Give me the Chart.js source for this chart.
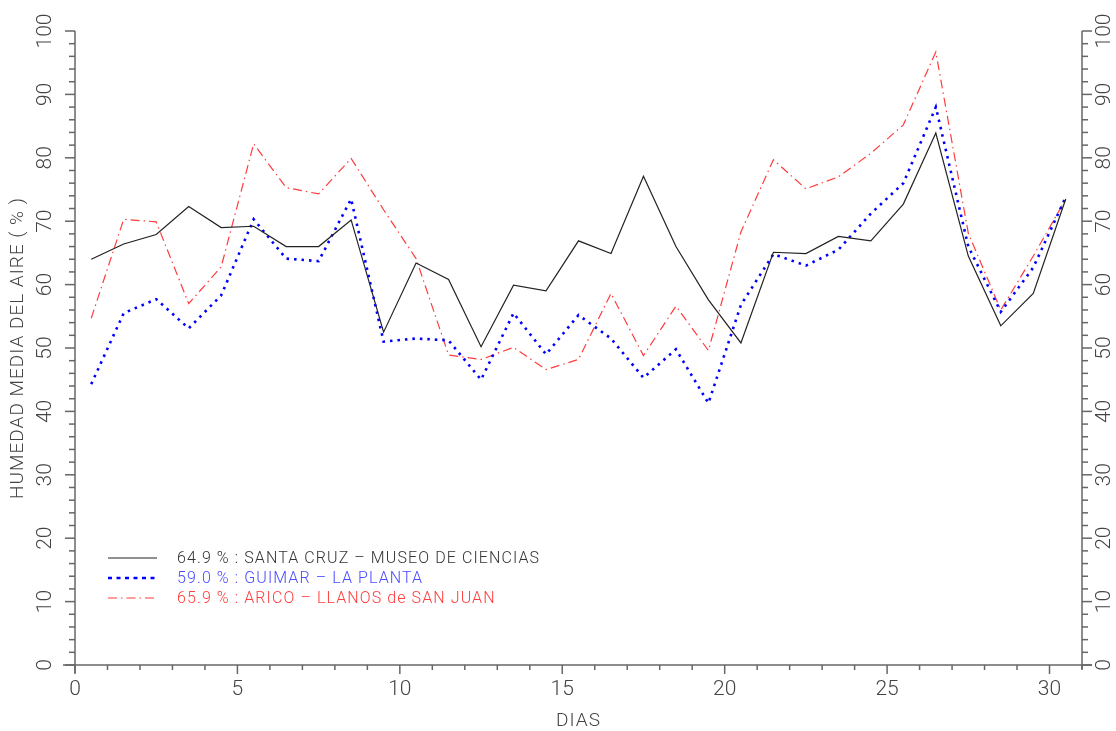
<!DOCTYPE html>
<html>
<head>
<meta charset="utf-8">
<script src="https://cdn.jsdelivr.net/npm/chart.js@4"></script>
<style>
  html, body { margin: 0; padding: 0; background: #fff; }
  #wrap { width: 1116px; height: 731px; }
</style>
</head>
<body>
<div id="wrap"><canvas id="chart" width="1116" height="731"></canvas></div>
<script>
// day positions (centre of each day)
const days = [0.5, 1.5, 2.5, 3.5, 4.5, 5.5, 6.5, 7.5, 8.5, 9.5, 10.5, 11.5, 12.5, 13.5, 14.5, 15.5,
              16.5, 17.5, 18.5, 19.5, 20.5, 21.5, 22.5, 23.5, 24.5, 25.5, 26.5, 27.5, 28.5, 29.5, 30.5];

const santaCruz = [64.0, 66.4, 67.9, 72.3, 69.0, 69.2, 66.0, 66.0, 70.2, 52.5, 63.4, 60.8, 50.2, 59.9, 59.0, 66.9,
                   64.9, 77.1, 66.0, 57.6, 50.8, 65.1, 64.9, 67.6, 66.9, 72.7, 83.9, 64.5, 53.5, 58.6, 73.5];
const guimar    = [44.3, 55.5, 57.7, 53.1, 58.3, 70.3, 64.1, 63.7, 73.5, 51.0, 51.5, 51.2, 45.0, 55.5, 49.0, 55.2,
                   51.5, 45.3, 49.8, 41.3, 56.8, 64.8, 63.0, 65.5, 71.2, 76.0, 88.0, 66.0, 55.7, 62.7, 73.8];
const arico     = [54.7, 70.3, 69.9, 57.0, 62.8, 82.2, 75.3, 74.3, 79.9, 71.8, 64.1, 48.9, 48.2, 50.1, 46.6, 48.2,
                   58.6, 48.8, 56.6, 49.6, 68.3, 79.7, 75.1, 77.0, 80.7, 85.2, 96.7, 68.1, 56.0, 64.5, 73.5];

const xTicks = [0, 5, 10, 15, 20, 25, 30];
const yTicks = [0, 10, 20, 30, 40, 50, 60, 70, 80, 90, 100];

const legendLabels = [
  '64.9 % : SANTA CRUZ \u2013 MUSEO DE CIENCIAS',
  '59.0 % : GUIMAR \u2013 LA PLANTA',
  '65.9 % : ARICO \u2013 LLANOS de SAN JUAN'
];
const lineColors = ['#222222', '#0000ff', '#ff3b3b'];
const textColors = ['#333333', '#4a4aff', '#ff3b3b'];
const dashes = [[], [2.5, 5], [9, 4, 1.5, 4]];
const widths = [1.2, 2.6, 1.2];

const axisColor = '#666';
const textColor = '#444';
const FONT = 'Roboto, "DejaVu Sans", sans-serif';

function toPoints(vals) {
  return vals.map((v, i) => ({ x: days[i], y: v }));
}

// draws the axes, ticks, labels and the legend box
const framePlugin = {
  id: 'frame',
  afterDraw(chart) {
    const ctx = chart.ctx;
    const a = chart.chartArea;
    const xs = chart.scales.x;
    const ys = chart.scales.y;

    ctx.save();
    ctx.strokeStyle = axisColor;
    ctx.lineWidth = 1.5;

    const seg = (x1, y1, x2, y2) => {
      ctx.beginPath();
      ctx.moveTo(x1, y1);
      ctx.lineTo(x2, y2);
      ctx.stroke();
    };

    // axis lines
    seg(a.left - 12, a.bottom, a.right + 10, a.bottom);
    seg(a.left, a.top, a.left, a.bottom + 8);
    seg(a.right, a.top, a.right, a.bottom + 4);

    // x ticks, one per day
    for (let d = 0; d <= 31; d++) {
      const px = xs.getPixelForValue(d);
      const len = d % 5 === 0 ? 9 : 5;
      seg(px, a.bottom, px, a.bottom + len);
    }
    // y ticks on both sides
    for (let v = 0; v <= 100; v += 2) {
      const py = ys.getPixelForValue(v);
      const len = v % 10 === 0 ? 10 : 6;
      seg(a.left - len, py, a.left, py);
      seg(a.right, py, a.right + len, py);
    }

    ctx.fillStyle = textColor;
    ctx.font = '300 21px ' + FONT;
    ctx.textAlign = 'center';
    ctx.textBaseline = 'middle';

    xTicks.forEach(v => {
      ctx.fillText(String(v), xs.getPixelForValue(v), a.bottom + 25);
    });

    yTicks.forEach(v => {
      const py = ys.getPixelForValue(v);
      [a.left - 29, a.right + 23].forEach(px => {
        ctx.save();
        ctx.translate(px, py);
        ctx.rotate(-Math.PI / 2);
        ctx.fillText(String(v), 0, 0);
        ctx.restore();
      });
    });

    // axis titles
    ctx.font = '300 19px ' + FONT;
    ctx.letterSpacing = '1px';
    ctx.fillText('DIAS', (a.left + a.right) / 2, a.bottom + 56);
    ctx.save();
    ctx.translate(18, (a.top + a.bottom) / 2);
    ctx.rotate(-Math.PI / 2);
    ctx.fillText('HUMEDAD MEDIA DEL AIRE ( % )', 0, 0);
    ctx.restore();

    // legend
    ctx.font = '300 16px ' + FONT;
    ctx.letterSpacing = '1.1px';
    ctx.textAlign = 'left';
    legendLabels.forEach((txt, i) => {
      const ly = 558 + i * 20;
      ctx.save();
      ctx.strokeStyle = lineColors[i];
      ctx.lineWidth = i === 1 ? 2.3 : 1.2;
      ctx.setLineDash(i === 1 ? [4, 4.5] : dashes[i]);
      seg(108, ly, 157, ly);
      ctx.restore();
      ctx.fillStyle = textColors[i];
      ctx.fillText(txt, 177, ly + 1);
    });

    ctx.restore();
  }
};

const series = [santaCruz, guimar, arico];

new Chart(document.getElementById('chart'), {
  type: 'line',
  data: {
    datasets: series.map((vals, i) => ({
      label: legendLabels[i],
      data: toPoints(vals),
      borderColor: lineColors[i],
      borderWidth: widths[i],
      borderDash: dashes[i],
      borderCapStyle: 'butt',
      pointRadius: 0,
      tension: 0,
      fill: false
    }))
  },
  options: {
    responsive: false,
    animation: false,
    layout: { padding: { left: 75, right: 34, top: 31, bottom: 66 } },
    plugins: {
      legend: { display: false },
      tooltip: { enabled: false }
    },
    scales: {
      x: {
        type: 'linear',
        min: 0,
        max: 31,
        grid: { display: false },
        border: { display: false },
        ticks: { display: false },
        afterFit(s) { s.height = 0; }
      },
      y: {
        min: 0,
        max: 100,
        grid: { display: false },
        border: { display: false },
        ticks: { display: false },
        afterFit(s) { s.width = 0; }
      }
    }
  },
  plugins: [framePlugin]
});
</script>
</body>
</html>
